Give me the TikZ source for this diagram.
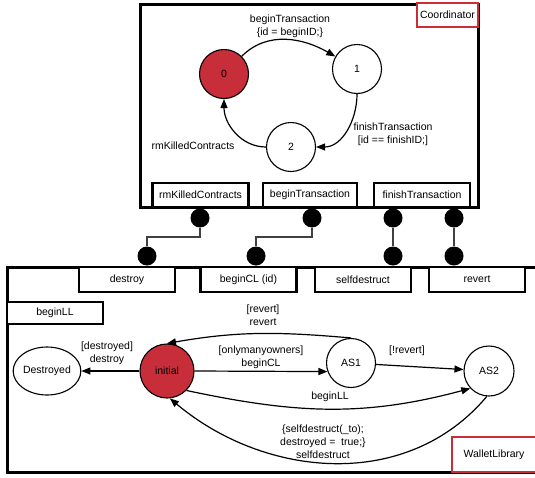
\documentclass[tikz,border=0pt]{standalone}
\usepackage{fontspec}
\setmainfont{Liberation Sans}
\usetikzlibrary{shapes.geometric, arrows.meta}
\definecolor{statered}{RGB}{200,45,58}
\tikzstyle{state} = [circle, minimum size=49pt, inner sep=0, draw=black, line width=1.1pt]
\tikzstyle{startstate} = [state, fill=statered]
\tikzstyle{port} = [rectangle, minimum width=96pt, minimum height=24pt, inner sep=0, draw=black, line width=2.6pt, fill=white]
\tikzstyle{namebox} = [rectangle, inner sep=0, draw=statered, line width=2.4pt, fill=white]
\tikzstyle{pin} = [circle, minimum size=19pt, inner sep=0, fill=black]
\tikzstyle{wire} = [line width=1.6pt, black!75]
\tikzstyle{lbl} = [align=center, inner sep=0]
\tikzstyle{trans} = [line width=1.2pt, ->, >={Triangle[length=9pt,width=7pt]}]

\begin{document}
\begin{tikzpicture}[x=1pt,y=1pt,font=\fontsize{10.5}{13}\selectfont]
\useasboundingbox (0,0) rectangle (535,-477);

% Coordinator
\draw[line width=3pt] (140,-4) rectangle (478,-207);
\node[namebox, minimum width=61pt, minimum height=24pt] (coordname) at (447.5,-15) {Coordinator};

\node[startstate] (c0) at (224,-74) {0};
\node[state] (c1) at (357,-69) {1};
\node[state] (c2) at (291,-147) {2};

\draw[trans] (c0) to[out=45,in=150] (c1);
\draw[trans] (c1) to[out=-90,in=0] (c2);
\draw[trans] (c2) to[out=180,in=-90] (c0);

\node[lbl] (lbegint) at (290,-26.5) {beginTransaction\\\{id = beginID;\}};
\node[lbl] (lfinish) at (393,-134.5) {finishTransaction\\{}[id == finishID;]};
\node[lbl] (lkill) at (193,-146) {rmKilledContracts};

\node[port] (pkill) at (200.5,-195) {rmKilledContracts};
\node[port, minimum width=94pt] (pbegint) at (310,-195) {beginTransaction};
\node[port] (pfinish) at (422,-195) {finishTransaction};

% pins
\node[pin] (dkill) at (200,-218) {};
\node[pin] (dbegint) at (312,-218) {};
\node[pin] (dfinisha) at (393,-218) {};
\node[pin] (dfinishb) at (454,-218) {};
\node[pin] (ddestroy) at (147,-256) {};
\node[pin] (dbegincl) at (256,-256) {};
\node[pin] (dself) at (393,-256) {};
\node[pin] (drevert) at (454,-256) {};

\draw[wire] (dkill) -- ++(0,-19) -| (ddestroy);
\draw[wire] (dbegint) -- ++(0,-19) -| (dbegincl);
\draw[wire] (dfinisha) -- (dself);
\draw[wire] (dfinishb) -- (drevert);

% WalletLibrary
\draw[line width=3pt] (7,-267) rectangle (536,-472);
\node[namebox, minimum width=84pt, minimum height=35pt] (walletname) at (494,-454.5) {WalletLibrary};

\node[port, minimum height=25pt] (pdestroy) at (127,-279.5) {destroy};
\node[port, minimum height=25pt] (pbegincl) at (248.5,-279.5) {beginCL (id)};
\node[port, minimum height=25pt] (pself) at (363,-279.5) {selfdestruct};
\node[port, minimum height=25pt] (prevert) at (477,-279.5) {revert};
\node[port, minimum height=22pt] (pbeginll) at (55,-313) {beginLL};

\node[ellipse, draw=black, line width=1.1pt, minimum width=62pt, minimum height=48pt, inner sep=0] (destroyed) at (47,-371) {Destroyed};
\node[startstate, minimum size=54pt] (init) at (167,-371) {initial};
\node[state] (as1) at (351,-363) {AS1};
\node[state, minimum size=50pt] (as2) at (489,-371) {AS2};

\draw[trans] (init) -- (destroyed);
\draw[trans] (init.east) -- (as1.200);
\draw[trans] (as1) -- (as2);
\draw[trans] (as1.north) to[out=175,in=10] (init.north);
\draw[trans] (init.-45) to[out=-12,in=195] (as2.223);
\draw[trans] (as2.265) to[out=-130,in=-40] (init.-84);

\node[lbl] (ldestroy) at (107,-353.5) {[destroyed]\\destroy};
\node[lbl] (lrevert) at (263,-315.5) {[revert]\\revert};
\node[lbl] (lbegincl) at (261,-357) {[onlymanyowners]\\beginCL};
\node[lbl] (lnotrevert) at (407,-351) {[!revert]};
\node[lbl] (lbeginll) at (330,-397) {beginLL};
\node[lbl] (lself) at (323,-441.5) {\{selfdestruct(\_to);\\destroyed =\ \ true;\}\\selfdestruct};
\end{tikzpicture}
\end{document}
